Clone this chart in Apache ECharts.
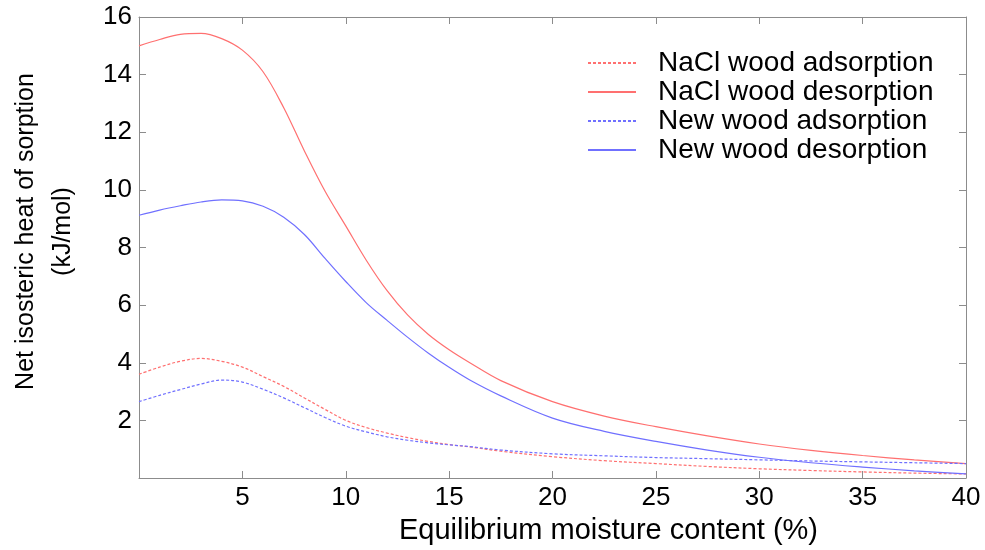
<!DOCTYPE html>
<html>
<head>
<meta charset="utf-8">
<script src="https://cdn.jsdelivr.net/npm/echarts@6/dist/echarts.min.js"></script>
<style>
  html, body { margin: 0; padding: 0; background: #fff; }
  #chart { width: 985px; height: 550px; }
</style>
</head>
<body>
<div id="chart"></div>
<script>
// moisture content (%)
var moisture = [0, 1, 2, 3, 4, 5, 6, 7, 8, 9, 10, 11, 12, 13, 14, 15, 16, 17.5, 20, 22.5, 25, 27.5, 30, 32.5, 35, 37.5, 40];

// net isosteric heat (kJ/mol)
var naclAds = [3.6, 3.85, 4.05, 4.15, 4.05, 3.85, 3.52, 3.18, 2.78, 2.38, 2.0, 1.75, 1.56, 1.4, 1.27, 1.16, 1.08, 0.93, 0.74, 0.6, 0.5, 0.4, 0.32, 0.26, 0.21, 0.17, 0.14];
var naclDes = [15.0, 15.22, 15.4, 15.43, 15.25, 14.85, 14.1, 12.85, 11.35, 9.95, 8.75, 7.55, 6.5, 5.65, 4.98, 4.45, 4.0, 3.38, 2.65, 2.15, 1.78, 1.46, 1.18, 0.96, 0.78, 0.63, 0.5];
var newAds = [2.65, 2.87, 3.07, 3.26, 3.4, 3.33, 3.08, 2.78, 2.44, 2.1, 1.8, 1.6, 1.43, 1.31, 1.22, 1.15, 1.09, 0.97, 0.84, 0.77, 0.71, 0.67, 0.63, 0.59, 0.56, 0.53, 0.5];
var newDes = [9.12, 9.3, 9.45, 9.58, 9.65, 9.62, 9.43, 9.05, 8.45, 7.62, 6.82, 6.08, 5.47, 4.88, 4.33, 3.84, 3.4, 2.85, 2.08, 1.62, 1.27, 0.97, 0.72, 0.53, 0.38, 0.25, 0.14];

var seriesNames = ['NaCl wood adsorption', 'NaCl wood desorption', 'New wood adsorption', 'New wood desorption'];

var RED = '#ff7070';
var BLUE = '#7070ff';
var AXIS = '#8c8c8c';
var FONT = '"Liberation Sans", Arial, sans-serif';

// x, y 배열을 [x, y] 쌍으로 묶기
var pairs = function(ys) {
  return moisture.map(function(x, i) { return [x, ys[i]]; });
};

var makeLine = function(name, ys, color, dashed) {
  return {
    name: name,
    type: 'line',
    data: pairs(ys),
    symbol: 'none',
    smooth: 0.35,
    lineStyle: { color: color, width: 1.2, type: dashed ? [3, 2] : 'solid' },
    itemStyle: { color: color }
  };
};

var hideZero = function(v) { return v === 0 ? '' : v; };

// 상자 테두리용 공통 축 스타일
var axisLine = { show: true, onZero: false, lineStyle: { color: AXIS } };
var axisTick = { inside: true, length: 7, lineStyle: { color: AXIS } };

var myChart = echarts.init(document.getElementById('chart'));

var option = {
  backgroundColor: '#fff',
  animation: false,
  textStyle: { fontFamily: FONT },
  grid: { left: 137, right: 19, top: 17, bottom: 69 },
  legend: {
    orient: 'vertical',
    left: 587,
    top: 49,
    padding: 0,
    itemWidth: 48,
    itemHeight: 10,
    itemGap: 1,
    itemStyle: { opacity: 0 },
    data: seriesNames,
    textStyle: {
      fontFamily: FONT, fontSize: 28, color: '#000',
      lineHeight: 28, padding: [0, 0, 0, 17]
    }
  },
  xAxis: [
    {
      type: 'value', min: 0, max: 40, interval: 5,
      name: 'Equilibrium moisture content (%)',
      nameLocation: 'middle',
      nameGap: 38,
      nameTextStyle: { fontFamily: FONT, fontSize: 29, color: '#000', padding: [0, 0, 0, 112] },
      axisLine: axisLine,
      axisTick: axisTick,
      axisLabel: { fontFamily: FONT, fontSize: 26, color: '#000', margin: 7, formatter: hideZero },
      splitLine: { show: false }
    },
    {
      type: 'value', min: 0, max: 40, interval: 5, position: 'top',
      axisLine: axisLine,
      axisTick: axisTick,
      axisLabel: { show: false },
      splitLine: { show: false }
    }
  ],
  yAxis: [
    {
      type: 'value', min: 0, max: 16, interval: 2,
      name: 'Net isosteric heat of sorption\n(kJ/mol)',
      nameLocation: 'middle',
      nameGap: 57,
      nameTextStyle: { fontFamily: FONT, fontSize: 25, color: '#000', lineHeight: 37, padding: [0, 0, 0, 32] },
      axisLine: axisLine,
      axisTick: axisTick,
      axisLabel: { fontFamily: FONT, fontSize: 26, color: '#000', margin: 7, formatter: hideZero },
      splitLine: { show: false }
    },
    {
      type: 'value', min: 0, max: 16, interval: 2, position: 'right',
      axisLine: axisLine,
      axisTick: axisTick,
      axisLabel: { show: false },
      splitLine: { show: false }
    }
  ],
  series: [
    makeLine(seriesNames[0], naclAds, RED, true),
    makeLine(seriesNames[1], naclDes, RED, false),
    makeLine(seriesNames[2], newAds, BLUE, true),
    makeLine(seriesNames[3], newDes, BLUE, false)
  ]
};

myChart.setOption(option);
</script>
</body>
</html>
